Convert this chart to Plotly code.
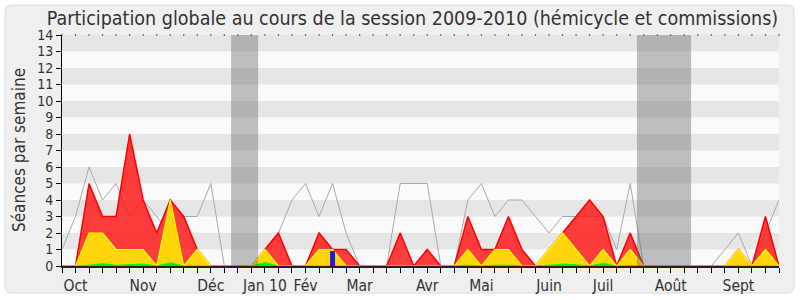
import plotly.graph_objects as go

weeks = list(range(54))
red = [0,0,5,3,3,8,4,2,4,3,1,0,0,0,0,1,2,0,0,2,1,1,0,0,0,2,0,1,0,0,
       3,1,1,3,1,0,1,2,3,4,3,0,2,0,0,0,0,0,0,0,1,0,3,0]
yellow = [0,0,2,2,1,1,1,0,4,0,1,0,0,0,0,1,0,0,0,1,1,0,0,0,0,0,0,0,0,0,
          1,0,1,1,0,0,1,2,1,0,1,0,1,0,0,0,0,0,0,0,1,0,1,0]
green = [0,0,0.05,0.15,0.05,0.1,0.12,0,0.2,0,0,0,0,0,0,0.22,0,0,0,0.03,0.03,0,0,0,0,0,0,0,0,0,
         0.05,0,0.05,0.05,0,0,0.05,0.12,0.08,0,0.17,0,0.03,0,0,0,0,0,0,0,0,0,0.03,0]
median = [1,3,6,4,5,3,4,3,2,3,3,5,0,0,0,1,2,4,5,3,5,2,0,0,0,5,5,5,0,0,
          4,5,3,4,4,3,2,3,3,3,3,1,5,0,0,0,0,0,0,1,2,0,2,4]
questions_x = [20]
questions_y = [0.9]
vacances = [(12.5, 14.5), (42.5, 46.5)]
tick_labels = {1: "Oct", 6: "Nov", 11: "Déc", 15: "Jan 10", 18: "Fév", 22: "Mar",
               27: "Avr", 31: "Mai", 36: "Juin", 40: "Juil", 45: "Août", 50: "Sept"}

W, H = 800, 300
L, R, T, B = 62, 779, 35, 266
font = "DejaVu Sans Condensed, DejaVu Sans"

fig = go.Figure()
fig.add_trace(go.Scatter(x=weeks, y=median, mode="lines",
                         line=dict(color="#aaaaaa", width=1), hoverinfo="skip"))
fig.add_trace(go.Scatter(x=weeks, y=red, mode="lines", fill="tozeroy",
                         fillcolor="rgba(255,20,20,0.82)",
                         line=dict(color="#ff0000", width=1.5)))
fig.add_trace(go.Scatter(x=weeks, y=yellow, mode="lines", fill="tozeroy",
                         fillcolor="#ffd50a",
                         line=dict(color="#ffff00", width=1.2)))
fig.add_trace(go.Scatter(x=weeks, y=green, mode="lines", fill="tozeroy",
                         fillcolor="#00ee00",
                         line=dict(color="#00ff00", width=1)))
# questions orales: vertical bars drawn as thick segments from 0 to value
for qx, qy in zip(questions_x, questions_y):
    fig.add_trace(go.Scatter(x=[qx, qx], y=[0, qy], mode="lines",
                             line=dict(color="#1c1ce6", width=5), hoverinfo="skip"))
fig.add_trace(go.Scatter(x=weeks, y=[14]*len(weeks), mode="markers",
                         marker=dict(color="#333333", size=1.5),
                         cliponaxis=False, hoverinfo="skip"))

shapes = []
def px(x): return (x - L) / (R - L)
def py(y): return (B - y) / (B - T)
x0, y0, x1, y1, r = 5, 5, 794, 293, 7
path = (f"M {px(x0+r)} {py(y0)} L {px(x1-r)} {py(y0)} "
        f"Q {px(x1)} {py(y0)} {px(x1)} {py(y0+r)} L {px(x1)} {py(y1-r)} "
        f"Q {px(x1)} {py(y1)} {px(x1-r)} {py(y1)} L {px(x0+r)} {py(y1)} "
        f"Q {px(x0)} {py(y1)} {px(x0)} {py(y1-r)} L {px(x0)} {py(y0+r)} "
        f"Q {px(x0)} {py(y0)} {px(x0+r)} {py(y0)} Z")
shapes.append(dict(type="path", path=path, xref="paper", yref="paper",
                   fillcolor="#efefef", line=dict(color="#dcdcdc", width=1),
                   layer="below"))
shapes.append(dict(type="rect", xref="paper", yref="paper", x0=0, x1=1, y0=0, y1=1,
                   fillcolor="#fafafa", line=dict(width=0), layer="below"))
for k in range(1, 14, 2):
    shapes.append(dict(type="rect", xref="paper", yref="y", x0=0, x1=1, y0=k, y1=k+1,
                       fillcolor="#e6e6e6", line=dict(width=0), layer="below"))
for a, b in vacances:
    shapes.append(dict(type="rect", xref="x", yref="y", x0=a, x1=b, y0=0, y1=14,
                       fillcolor="rgba(100,100,100,0.4)", line=dict(width=0),
                       layer="above"))

fig.update_layout(
    width=W, height=H,
    margin=dict(l=L, r=W - R, t=T, b=H - B, autoexpand=False),
    paper_bgcolor="#ffffff", plot_bgcolor="#fafafa",
    showlegend=False, shapes=shapes,
    font=dict(family=font, color="#333333", size=15),
    title=dict(text="Participation globale au cours de la session 2009-2010 (hémicycle et commissions)",
               x=412.5 / W, xanchor="center", xref="container",
               y=1 - 18 / H, yanchor="middle", yref="container",
               font=dict(family=font, size=19.5, color="#333333")),
    annotations=[dict(text="Séances par semaine", textangle=-90, xref="paper", yref="paper",
                      x=px(19), y=py(150), xanchor="center", yanchor="middle",
                      showarrow=False, font=dict(family=font, size=17, color="#333333"))],
)
fig.update_xaxes(range=[0, 53], tickmode="array", tickvals=weeks,
                 ticktext=[tick_labels.get(w, "") for w in weeks],
                 ticks="outside", ticklen=5, tickcolor="#000000", automargin=False,
                 showline=True, linecolor="#3a1a10", linewidth=1.5,
                 showgrid=False, zeroline=False, tickfont=dict(size=15.5, color="#333333"))
fig.update_yaxes(range=[0, 14], tickmode="linear", tick0=0, dtick=1,
                 ticks="outside", ticklen=5, tickcolor="#000000", automargin=False,
                 showline=True, linecolor="#000000", linewidth=1,
                 showgrid=False, zeroline=False, tickfont=dict(size=14, color="#333333"))

fig.write_html("out.html")
